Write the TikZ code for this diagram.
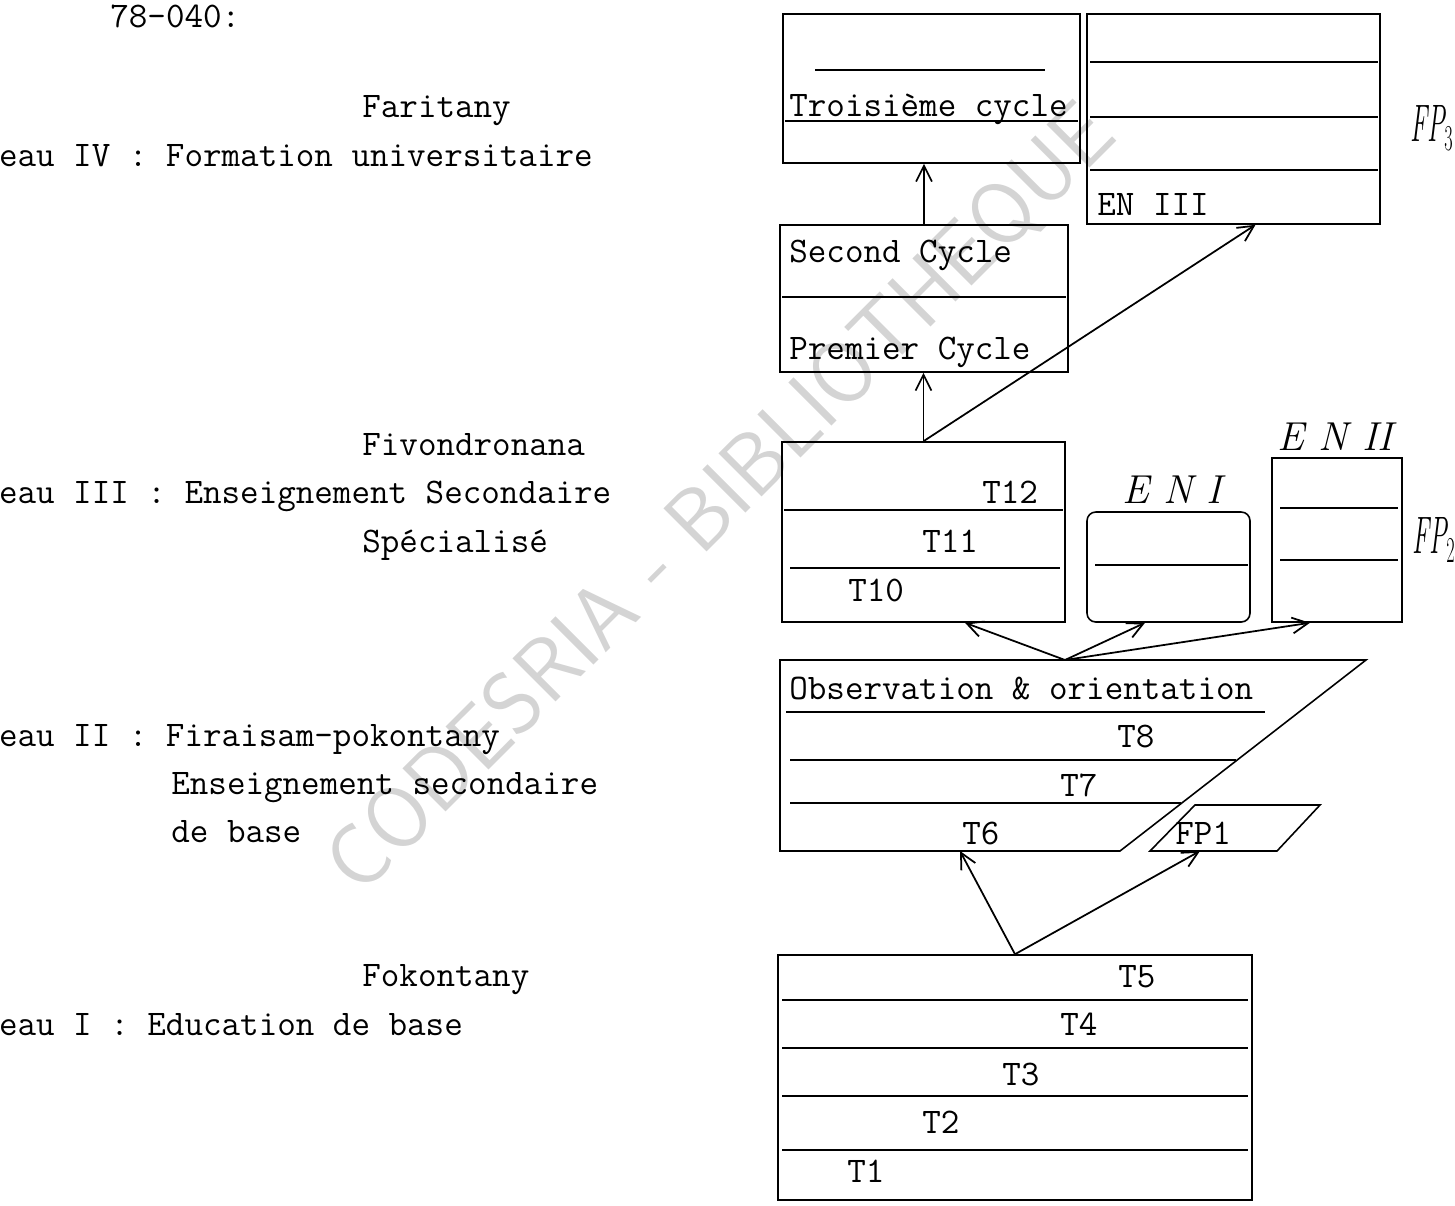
\documentclass[tikz,border=0pt]{standalone}
\usetikzlibrary{arrows.meta,fit}
\begin{document}
\begin{tikzpicture}[x=0.2mm,y=-0.2mm,
    typed/.style={font=\ttfamily\fontsize{20.5}{24}\selectfont, inner sep=0pt, anchor=base west},
    handnote/.style={font=\itshape\fontsize{23}{26}\selectfont, inner sep=0pt},
    narrownote/.style={inner sep=0pt, font=\itshape\fontsize{30}{32}\selectfont, transform shape, xscale=0.5, anchor=west},
    block/.style={draw, line width=0.9pt, inner sep=0pt},
    rule/.style={line width=1.3pt},
    link/.style={-{Straight Barb[length=9pt,width=9pt]}, line width=1pt}]
\useasboundingbox (0,0) rectangle (1455,1205);

% filigrane
\node[rotate=45, text=black!17, font=\sffamily\fontsize{50}{50}\selectfont] (filigrane) at (722,500) {CODESRIA - BIBLIOTHEQUE};

% colonne de gauche
\node[typed] (decret) at (110,27) {78-040:};
\node[typed] (faritany) at (362,117) {Faritany};
\node[typed] (niv4) at (-57,166) {Niveau IV : Formation universitaire};
\node[typed] (fivondronana) at (362,455) {Fivondronana};
\node[typed] (niv3) at (-57,503) {Niveau III : Enseignement Secondaire};
\node[typed] (specialise) at (362,552) {Spécialisé};
\node[typed] (niv2) at (-57,746) {Niveau II : Firaisam-pokontany};
\node[typed] (niv2b) at (171,794) {Enseignement secondaire};
\node[typed] (niv2c) at (171,842) {de base};
\node[typed] (fokontany) at (362,986) {Fokontany};
\node[typed] (niv1) at (-57,1035) {Niveau I : Education de base};

% niveau IV
\node[block, fit={(783,14) (1080,163)}] (troisieme) {};
\draw[rule] (815,70) -- (1045,70);
\draw[rule] (785,121) -- (1078,121);
\node[typed] (t3cycle) at (789,116) {Troisième cycle};

\node[block, fit={(1087,14) (1380,224)}] (eniii) {};
\foreach \y in {62,117,170}
    \draw[rule] (1090,\y) -- (1378,\y);
\node[typed] (eniiitxt) at (1097,215) {EN III};
\node[narrownote] (fp3) at (1410,128) {FP$_3$};

\node[block, fit={(780,225) (1068,372)}] (cycles) {};
\draw[rule] (782,297) -- (1066,297);
\node[typed] (second) at (789,262) {Second Cycle};
\node[typed] (premier) at (789,359) {Premier Cycle};

% niveau III
\node[block, fit={(782,442) (1065,622)}] (lycee) {};
\draw[rule] (784,510) -- (1063,510);
\draw[rule] (790,568) -- (1060,568);
\node[typed] (t12) at (982,503) {T12};
\node[typed] (t11) at (922,552) {T11};
\node[typed] (t10) at (848,601) {T10};

\node[block, rounded corners=5pt, fit={(1087,512) (1250,622)}] (eni) {};
\draw[rule] (1095,565) -- (1248,565);
\node[handnote] (enilabel) at (1172,490) {E N I};

\node[block, fit={(1272,458) (1402,622)}] (enii) {};
\foreach \y in {508,560}
    \draw[rule] (1280,\y) -- (1398,\y);
\node[handnote] (eniilabel) at (1335,437) {E N II};
\node[narrownote] (fp2) at (1412,540) {FP$_2$};

% niveau II
\coordinate (obstop) at (1065,660);
\coordinate (obsbas) at (960,851);
\draw[block] (780,660) -- (1366,660) -- (1120,851) -- (780,851) -- cycle;
\draw[rule] (786,712) -- (1265,712);
\draw[rule] (790,760) -- (1236,760);
\draw[rule] (790,803) -- (1181,803);
\node[typed] (observation) at (789,699) {Observation \& orientation};
\node[typed] (t8) at (1117,747) {T8};
\node[typed] (t7) at (1060,796) {T7};
\node[typed] (t6) at (962,844) {T6};

\coordinate (fpbas) at (1200,851);
\draw[block] (1150,851) -- (1195,805) -- (1320,805) -- (1277,851) -- cycle;
\node[typed] (fp1) at (1175,844) {FP1};

% niveau I
\node[block, fit={(778,955) (1252,1200)}] (base) {};
\foreach \y in {1000,1048,1096,1150}
    \draw[rule] (782,\y) -- (1248,\y);
\node[typed] (t5) at (1118,987) {T5};
\node[typed] (t4) at (1060,1035) {T4};
\node[typed] (t3) at (1002,1085) {T3};
\node[typed] (t2) at (922,1133) {T2};
\node[typed] (t1) at (847,1182) {T1};

% passages
\draw[link] (cycles.north) -- (cycles.north |- troisieme.south);
\draw[link] (lycee.north) -- (lycee.north |- cycles.south);
\draw[link] (lycee.north) -- ([xshift=4.4mm]eniii.south);
\draw[link] (obstop) -- ([xshift=8.3mm]lycee.south);
\draw[link] (obstop) -- ([xshift=-4.7mm]eni.south);
\draw[link] (obstop) -- ([xshift=-5.4mm]enii.south);
\draw[link] (base.north) -- (obsbas);
\draw[link] (base.north) -- (fpbas);
\end{tikzpicture}
\end{document}
